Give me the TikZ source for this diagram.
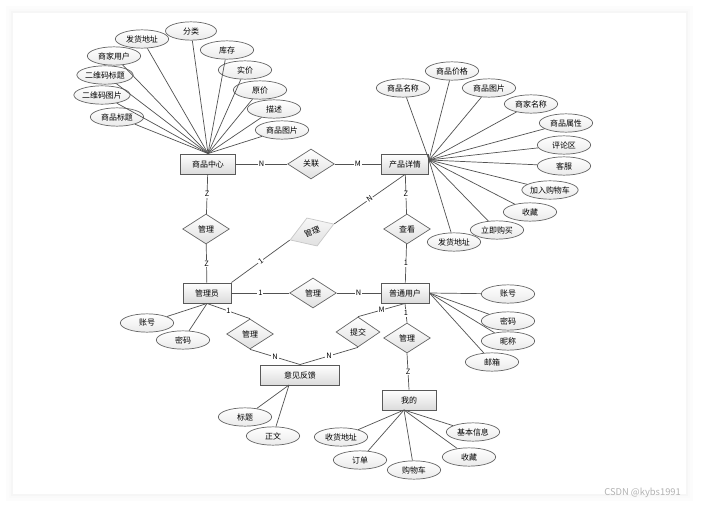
\documentclass[tikz,border=0pt]{standalone}
\usepackage{fontspec}
\setmainfont{Noto Sans CJK SC}
\usetikzlibrary{shapes.geometric,positioning}

\begin{document}
\begin{tikzpicture}
[x=0.03cm, y=-0.03cm,
every node/.style={font=\fontsize{6.8}{8}\selectfont},
entity/.style={rectangle, draw=black!65, line width=0.8pt, top color=white, bottom color=black!14, minimum width=1.44cm, minimum height=0.6cm, inner sep=1pt},
rel/.style={diamond, draw=black!60, line width=0.6pt, top color=white, bottom color=black!12, minimum width=1.4cm, minimum height=0.9cm, inner sep=0pt},
attr/.style={ellipse, draw=black!60, line width=0.6pt, top color=white, bottom color=black!8, minimum width=1.6cm, minimum height=0.55cm, inner sep=0pt},
link/.style={draw=black!68, line width=0.6pt},
every edge/.style={link},
lbl/.style={fill=white, inner sep=0.8pt, font=\fontsize{6.3}{7}\selectfont},
]
  \useasboundingbox (0,0) rectangle (701,507);
  % card with soft shadow
  \fill[black!1] (6,6) rectangle (693,501);
  \fill[black!2] (9,9) rectangle (690,498);
  \fill[black!3.5] (11,11) rectangle (688,496);
  \fill[white] (13,13) rectangle (686,494);
  \node[anchor=east, text=black!30, font=\fontsize{8}{9}\selectfont] (mark) at (685,493) {CSDN @kybs1991};

  % entities
  \node[entity, minimum width=1.65cm] (sp)  at (208,164) {商品中心};
  \node[entity, minimum width=1.41cm] (xq)  at (405,164) {产品详情};
  \node[entity]                       (gly) at (207,293) {管理员};
  \node[entity]                       (pt)  at (405,293) {普通用户};
  \node[entity, minimum width=2.37cm] (fk)  at (300,375) {意见反馈};
  \node[entity, minimum width=1.62cm] (wd)  at (409,400) {我的};

  % relations
  \node[rel] (gl)  at (311,164) {关联};
  \node[rel] (glA) at (206,229) {管理};
  \node[rel, rotate=20, draw=black!22, top color=black!3, bottom color=black!12] (glB) at (312,232) {管理};
  \node[rel] (ck)  at (407,229) {查看};
  \node[rel] (glC) at (313,293) {管理};
  \node[rel] (glD) at (250,334) {管理};
  \node[rel, minimum width=1.32cm] (tj) at (358,332) {提交};
  \node[rel] (glE) at (407,338) {管理};

  \path
    (sp)  edge node[lbl] {N} (gl)
    (gl)  edge node[lbl] {M} (xq)
    (sp)  edge node[lbl] {Z} (glA)
    (glA) edge node[lbl] {Z} (gly)
    (gly.north east) edge node[lbl, sloped] {1} (glB.west)
    (glB.east) edge node[lbl, sloped] {N} (xq.south)
    (xq)  edge node[lbl] {Z} (ck)
    (ck)  edge node[lbl] {1} (pt)
    (gly) edge node[lbl] {1} (glC)
    (glC) edge node[lbl] {N} (pt)
    (gly.south) edge node[lbl] {1} (glD.north)
    (glD.south) edge node[lbl] {N} (fk.north)
    (pt.south) edge node[lbl] {M} (tj.north)
    (tj.south) edge node[lbl] {N} (fk.north)
    (pt.south) edge node[lbl] {1} (glE.north)
    (glE.south) edge node[lbl] {Z} (wd.north)
    ;

  % attributes of 商品中心
  \node[attr, minimum width=1.53cm] (fl) at (191,31) {分类};
  \node[attr] (fhdz)  at (142,39)  {发货地址};
  \node[attr] (sjyh)  at (114,56)  {商家用户};
  \node[attr] (ewmbt) at (105,75)  {二维码标题};
  \node[attr] (ewmtp) at (102,95)  {二维码图片};
  \node[attr] (spbt)  at (117,117) {商品标题};
  \node[attr] (kc)    at (227,50)  {库存};
  \node[attr] (sj)    at (245,70)  {实价};
  \node[attr] (yj)    at (260,90)  {原价};
  \node[attr] (ms)    at (274,109) {描述};
  \node[attr] (sptp)  at (282,130) {商品图片};
  \foreach \a in {fl,fhdz,sjyh,ewmbt,ewmtp,spbt,kc,sj,yj,ms,sptp}
    \draw[link] (\a) -- (sp.north);

  % attributes of 产品详情
  \coordinate (xqhub) at (429,160);
  \node[attr] (spmc)  at (403,88)  {商品名称};
  \node[attr] (spjg)  at (452,71)  {商品价格};
  \node[attr] (sptpB) at (489,88)  {商品图片};
  \node[attr] (sjmc)  at (531,104) {商家名称};
  \node[attr] (spsx)  at (566,123) {商品属性};
  \node[attr] (plq)   at (564,145) {评论区};
  \node[attr] (kf)    at (564,166) {客服};
  \node[attr] (jrgwc) at (550,190) {加入购物车};
  \node[attr] (sc)    at (530,212) {收藏};
  \node[attr] (ljgm)  at (497,230) {立即购买};
  \node[attr] (fhdzB) at (454,242) {发货地址};
  \foreach \a in {spmc,spjg,sptpB,sjmc,spsx,plq,kf,jrgwc,sc,ljgm,fhdzB}
    \draw[link] (\a) -- (xqhub);

  % attributes of 普通用户
  \node[attr] (zh) at (508,294) {账号};
  \node[attr] (mm) at (508,321) {密码};
  \node[attr] (nc) at (508,341) {昵称};
  \node[attr] (yx) at (492,362) {邮箱};
  \foreach \a in {zh,mm,nc,yx}
    \draw[link] (\a) -- (pt.east);

  % attributes of 我的
  \coordinate (wdhub) at (404,410);
  \node[attr] (jbxx) at (473,432) {基本信息};
  \node[attr] (scB)  at (469,457) {收藏};
  \node[attr] (gwc)  at (414,470) {购物车};
  \node[attr] (dd)   at (360,460) {订单};
  \node[attr] (shdz) at (341,437) {收货地址};
  \foreach \a in {jbxx,scB,gwc,dd,shdz}
    \draw[link] (\a) -- (wdhub);

  % attributes of 管理员
  \node[attr] (zhB) at (147,323) {账号};
  \node[attr] (mmB) at (183,340) {密码};
  \foreach \a in {zhB,mmB}
    \draw[link] (\a) -- (gly.south);

  % attributes of 意见反馈
  \coordinate (fkhub) at (289,385);
  \node[attr] (bt) at (245,417) {标题};
  \node[attr] (zw) at (273,436) {正文};
  \foreach \a in {bt,zw}
    \draw[link] (\a) -- (fkhub);
\end{tikzpicture}
\end{document}
